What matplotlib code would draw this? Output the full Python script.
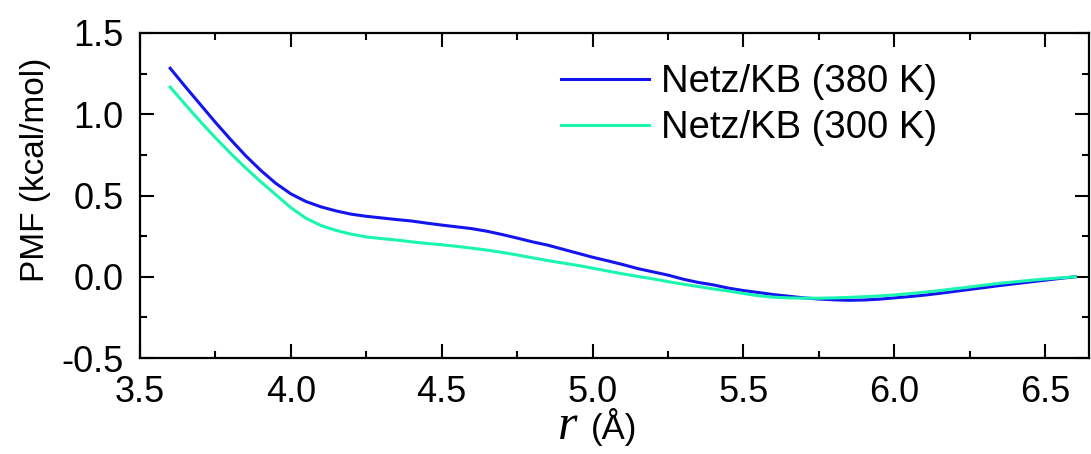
import matplotlib
matplotlib.use("Agg")
import matplotlib.pyplot as plt
from matplotlib.ticker import MultipleLocator, FormatStrFormatter

r_vals = [3.60, 3.65, 3.70, 3.75, 3.80, 3.85, 3.90, 3.95, 4.00, 4.05,
          4.10, 4.15, 4.20, 4.25, 4.30, 4.35, 4.40, 4.45, 4.50, 4.55,
          4.60, 4.65, 4.70, 4.75, 4.80, 4.85, 4.90, 4.95, 5.00, 5.05,
          5.10, 5.15, 5.20, 5.25, 5.30, 5.35, 5.40, 5.45, 5.50, 5.55,
          5.60, 5.65, 5.70, 5.75, 5.80, 5.85, 5.90, 5.95, 6.00, 6.05,
          6.10, 6.15, 6.20, 6.25, 6.30, 6.35, 6.40, 6.45, 6.50, 6.55, 6.60]

pmf_380 = [1.283, 1.17, 1.06, 0.95, 0.845, 0.745, 0.655, 0.575, 0.51, 0.463,
           0.43, 0.405, 0.385, 0.372, 0.362, 0.352, 0.343, 0.330, 0.318, 0.307,
           0.296, 0.28, 0.26, 0.238, 0.215, 0.195, 0.17, 0.145, 0.12, 0.098,
           0.075, 0.05, 0.03, 0.01, -0.015, -0.035, -0.05, -0.07, -0.085, -0.097,
           -0.11, -0.12, -0.13, -0.137, -0.142, -0.145, -0.143, -0.138, -0.13, -0.122,
           -0.113, -0.102, -0.09, -0.078, -0.066, -0.054, -0.043, -0.032, -0.021, -0.01, 0.0]

pmf_300 = [1.167, 1.06, 0.955, 0.855, 0.76, 0.67, 0.585, 0.505, 0.425, 0.36,
           0.315, 0.285, 0.262, 0.245, 0.235, 0.226, 0.215, 0.205, 0.197, 0.187,
           0.176, 0.164, 0.150, 0.134, 0.117, 0.10, 0.085, 0.07, 0.053, 0.035,
           0.018, 0.002, -0.013, -0.03, -0.046, -0.06, -0.075, -0.088, -0.103, -0.117,
           -0.126, -0.13, -0.132, -0.132, -0.13, -0.127, -0.123, -0.118, -0.112, -0.104,
           -0.095, -0.085, -0.074, -0.063, -0.051, -0.04, -0.031, -0.022, -0.014, -0.007, 0.0]

labels = ["Netz/KB (380 K)", "Netz/KB (300 K)"]
colors = ["#1414f0", "#1af5b0"]

plt.rcParams['font.family'] = ['Liberation Sans', 'DejaVu Sans']

fig = plt.figure(figsize=(10.91, 4.54), dpi=100)
ax = fig.add_axes([140/1091, (454-358)/454, (1089-140)/1091, (358-33)/454])

ax.plot(r_vals, pmf_380, color=colors[0], lw=2.2, label=labels[0])
ax.plot(r_vals, pmf_300, color=colors[1], lw=2.2, label=labels[1])

ax.set_xlim(3.5, 6.645)
ax.set_ylim(-0.5, 1.5)
ax.xaxis.set_major_locator(MultipleLocator(0.5))
ax.xaxis.set_minor_locator(MultipleLocator(0.25))
ax.yaxis.set_major_locator(MultipleLocator(0.5))
ax.yaxis.set_minor_locator(MultipleLocator(0.25))
ax.xaxis.set_major_formatter(FormatStrFormatter('%.1f'))
ax.yaxis.set_major_formatter(FormatStrFormatter('%.1f'))

ax.tick_params(which='both', direction='in', top=True, right=True,
               labeltop=False, labelright=False, width=1.5)
ax.tick_params(which='major', length=10, labelsize=26)
ax.tick_params(which='minor', length=5)
ax.tick_params(axis='x', which='major', pad=12)
ax.tick_params(axis='y', which='major', pad=12)
for s in ax.spines.values():
    s.set_linewidth(1.6)

ax.set_ylabel("PMF (kcal/mol)", fontsize=24)
ax.yaxis.set_label_coords(-0.094, 0.58)

ax.text(0.440, -0.25, "r", transform=ax.transAxes, fontsize=36,
        family='Liberation Serif', style='italic', ha='left', va='baseline')
ax.text(0.475, -0.25, "(Å)", transform=ax.transAxes, fontsize=25,
        ha='left', va='baseline')

leg = ax.legend(loc='upper left', bbox_to_anchor=(0.4436, 0.905), frameon=False,
                fontsize=27.5, handlelength=2.3, handletextpad=0.32,
                labelspacing=0.27, borderpad=0, borderaxespad=0)

fig.savefig("out.png", dpi=100)
